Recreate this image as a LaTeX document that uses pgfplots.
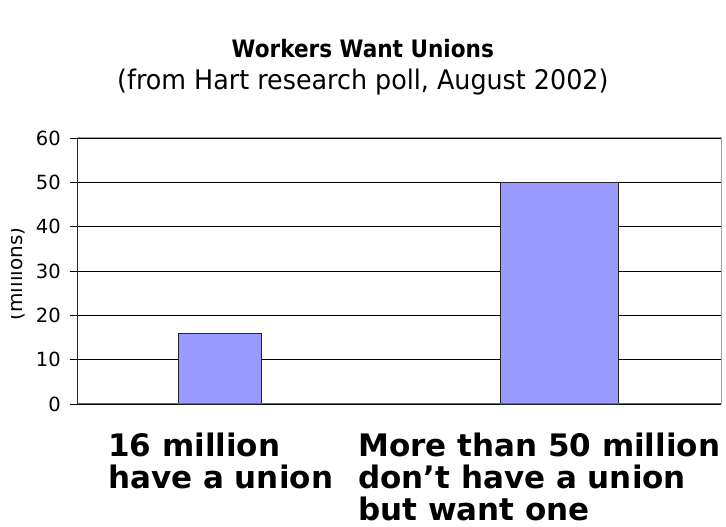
\documentclass[border=0pt]{standalone}
\usepackage{pgfplots}
\pgfplotsset{compat=1.18}
\usepackage{fontspec}
\setmainfont{DejaVu Sans}
\newfontfamily\titlefont[FakeStretch=0.9]{DejaVu Sans}
\newfontfamily\subfont[FakeStretch=0.94]{DejaVu Sans}
\definecolor{barblue}{HTML}{9999FF}
\definecolor{boxgray}{HTML}{A0A0A0}
\begin{document}
\begin{tikzpicture}
\useasboundingbox (-78pt,-123pt) rectangle (648pt,404pt);
\begin{axis}[
  scale only axis,
  width=643pt, height=266pt,
  xmin=0, xmax=643,
  ymin=0, ymax=60,
  ytick={0,10,...,60},
  ymajorgrids,
  grid style={black, line width=0.8pt},
  axis line style={boxgray, line width=1pt},
  ytick pos=left,
  tick align=outside,
  major tick length=8pt,
  ytick style={black, line width=0.8pt},
  xtick={30,280},
  xticklabels={{16 million\\have a union},{More than 50 million\\don’t have a union\\but want one}},
  xtick style={draw=none},
  xticklabel style={anchor=north west, align=left, font=\fontsize{31}{32}\selectfont\bfseries, inner sep=0pt, yshift=-21pt},
  yticklabel style={font=\fontsize{19.5}{22}\selectfont, inner sep=0pt, xshift=-9pt},
  /pgf/number format/assume math mode=true,
  clip=false,
]
\addplot[ybar, bar width=83, fill=barblue, draw=black!85, line width=0.8pt] coordinates {(141.8,16)};
\addplot[ybar, bar width=118, fill=barblue, draw=black!85, line width=0.8pt] coordinates {(481,50)};
\draw[black!85, line width=1pt] (axis cs:0,0) -- (axis cs:0,60);
\draw[black!60, line width=1pt] (axis cs:0,0) -- (axis cs:643,0);
\node[anchor=base, font=\titlefont\fontsize{24}{26}\selectfont\bfseries] at (axis description cs:0.443,1.3045) {Workers Want Unions};
\node[anchor=base, font=\subfont\fontsize{27}{30}\selectfont] at (axis description cs:0.443,1.1805) {(from Hart research poll, August 2002)};
\end{axis}
\begin{scope}
\clip (-66pt,60pt) rectangle (-45pt,210pt);
\node[rotate=90, anchor=base, font=\fontsize{20}{22}\selectfont, inner sep=0pt] at (-55pt,130pt) {(millions)};
\end{scope}
\end{tikzpicture}
\end{document}
